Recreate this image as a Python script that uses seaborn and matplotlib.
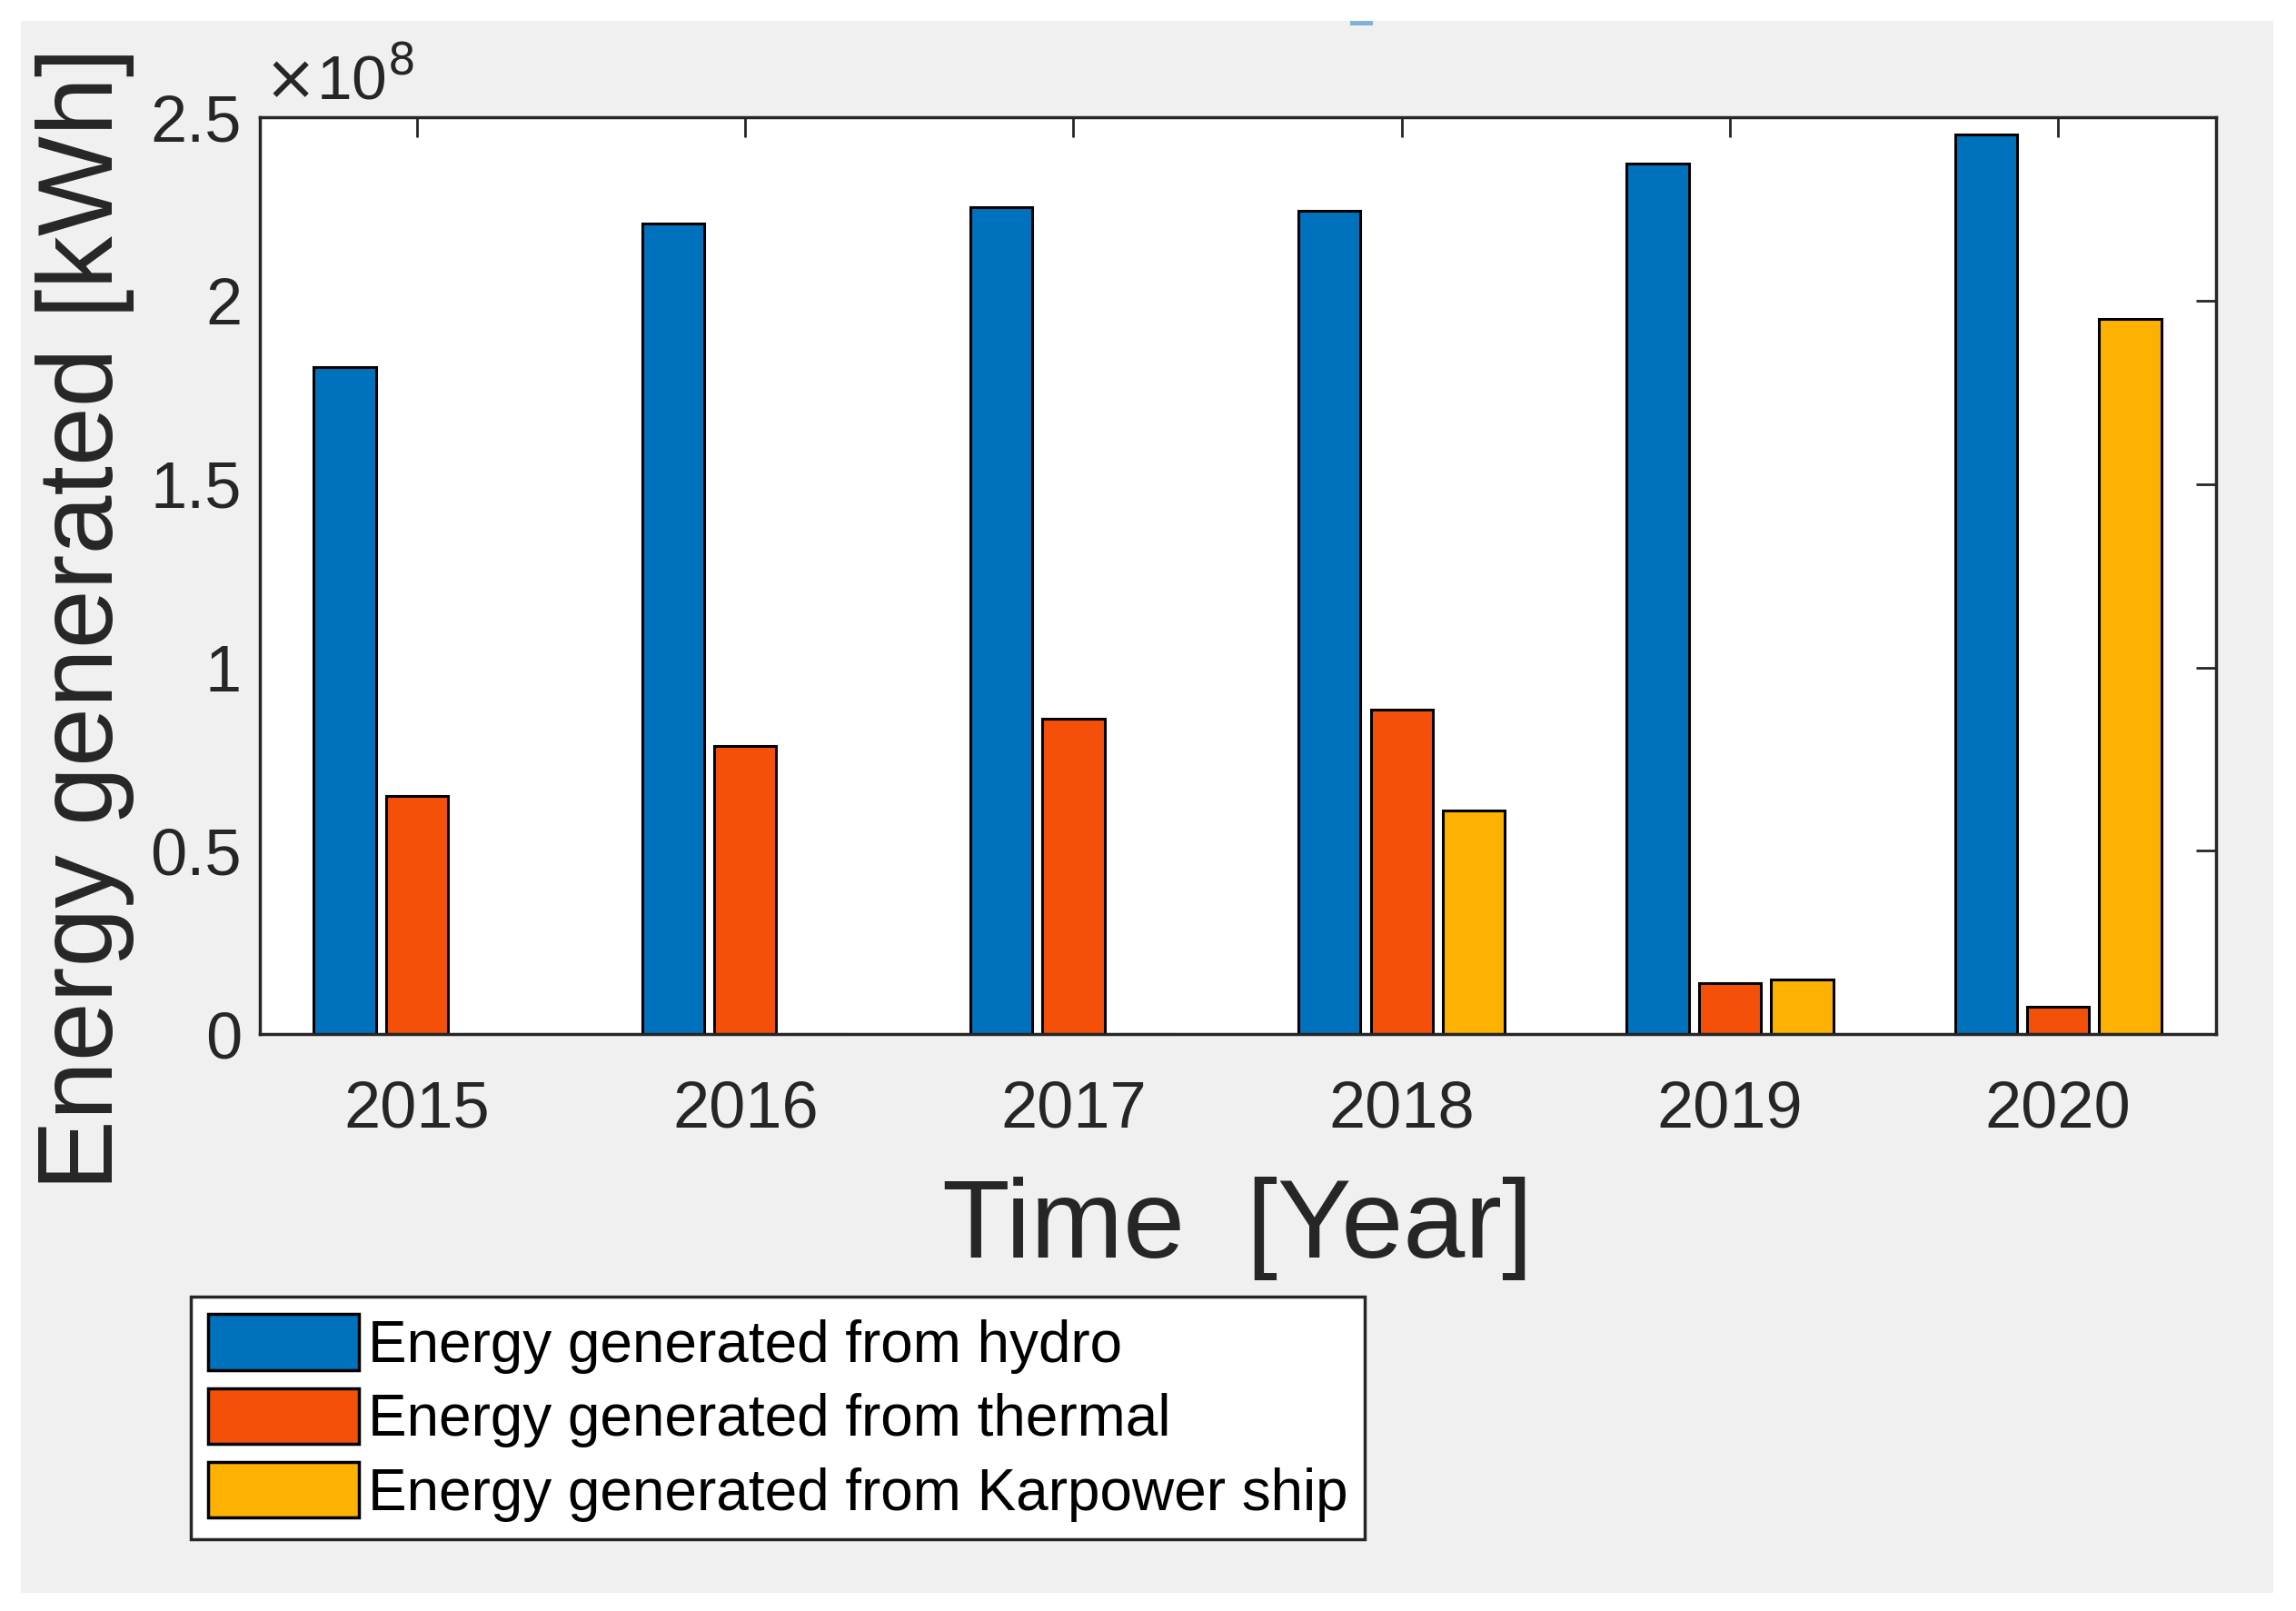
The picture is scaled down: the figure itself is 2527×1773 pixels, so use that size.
import numpy as np
import pandas as pd
import matplotlib
matplotlib.use('Agg')
import matplotlib.pyplot as plt
import seaborn as sns
from matplotlib.patches import Rectangle, Patch

# values, kWh
years = ['2015', '2016', '2017', '2018', '2019', '2020']
hydro = [1.82e8, 2.21e8, 2.255e8, 2.245e8, 2.375e8, 2.455e8]
thermal = [0.65e8, 0.785e8, 0.86e8, 0.885e8, 0.14e8, 0.075e8]
karpower = [0.0, 0.0, 0.0, 0.61e8, 0.15e8, 1.95e8]

sources = ['Energy generated from hydro',
           'Energy generated from thermal',
           'Energy generated from Karpower ship']
colors = ['#0072BD', '#F5500A', '#FDB100']

df = pd.DataFrame({
    'Year': years * 3,
    'Energy': hydro + thermal + karpower,
    'Source': [sources[0]] * 6 + [sources[1]] * 6 + [sources[2]] * 6,
})

sns.set_style('white')
plt.rcParams['font.family'] = ['Liberation Sans', 'DejaVu Sans']
txt = '#262626'

fig = plt.figure(figsize=(25.27, 17.73), dpi=100, facecolor='white')
# grey matlab figure background with a thin white frame
fig.patches.append(Rectangle((0.009, 0.011), 0.981, 0.976, transform=fig.transFigure,
                             facecolor='#f0f0f0', edgecolor='none', zorder=-10))
# small leftover mark at the top
fig.patches.append(Rectangle((0.588, 0.984), 0.010, 0.003, transform=fig.transFigure,
                             facecolor='#7fb3d5', edgecolor='none'))
ax = fig.add_axes([0.113, 0.358, 0.852, 0.569])
ax.set_facecolor('white')

sns.barplot(data=df, x='Year', y='Energy', hue='Source', hue_order=sources,
            palette=colors, width=0.66, gap=0.14, edgecolor='black', linewidth=2.2,
            saturation=1, ax=ax, legend=False)

ax.set_xlim(-0.48, 5.48)
ax.set_ylim(0, 2.5e8)
ax.set_yticks(np.arange(0, 2.51e8, 0.5e8))
ax.yaxis.set_major_formatter(plt.FuncFormatter(lambda v, p: '%g' % (v / 1e8)))
ax.tick_params(direction='in', length=16, width=2, top=True, right=True,
               labelsize=52, colors=txt)
ax.tick_params(axis='x', pad=36)
ax.tick_params(axis='y', pad=14)
for s in ax.spines.values():
    s.set_linewidth(2.5)
    s.set_color(txt)

ax.text(0.002, 1.02, r'$\times$10$^{8}$', transform=ax.transAxes, fontsize=50,
        color=txt, ha='left', va='baseline')

ax.set_xlabel('Time  [Year]', fontsize=88, color=txt)
ax.set_ylabel('Energy generated [kWh]', fontsize=84, color=txt)
ax.xaxis.set_label_coords(0.5, -0.155)
ax.yaxis.set_label_coords(-0.064, 0.453)

handles = [Patch(facecolor=c, edgecolor='black', linewidth=2.5) for c in colors]
leg = fig.legend(handles, sources, loc='upper left', bbox_to_anchor=(0.083, 0.195),
                 borderaxespad=0, fontsize=46, handlelength=2.6, handleheight=1.1,
                 handletextpad=0.15, labelspacing=0.25, borderpad=0.3,
                 fancybox=False, framealpha=1, edgecolor=txt)
leg.get_frame().set_linewidth(2.5)
for t in leg.get_texts():
    t.set_color('black')

fig.savefig('out.png', dpi=100, facecolor='white')
